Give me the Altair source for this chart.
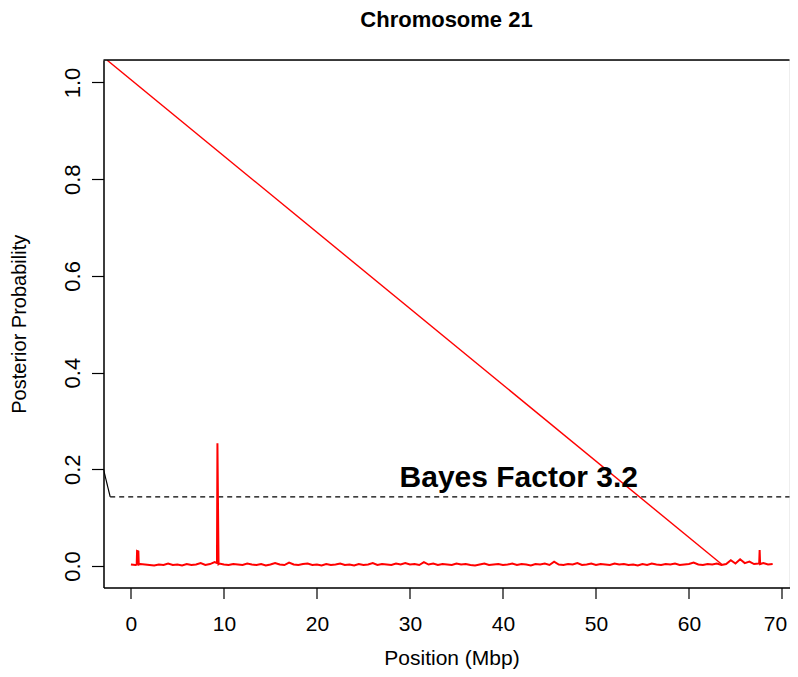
import altair as alt
import pandas as pd

FONT = "Liberation Sans, Arial, Helvetica, sans-serif"

# --- data ---
# background posterior probability along the chromosome (Mbp, probability)
noise_pos = [0.0, 0.5, 1.0, 1.5, 2.0, 2.5, 3.0, 3.5, 4.0, 4.5, 5.0, 5.5, 6.0, 6.5, 7.0, 7.5,
             8.0, 8.5, 9.0, 9.5, 10.0, 10.5, 11.0, 11.5, 12.0, 12.5, 13.0, 13.5, 14.0, 14.5,
             15.0, 15.5, 16.0, 16.5, 17.0, 17.5, 18.0, 18.5, 19.0, 19.5, 20.0, 20.5, 21.0,
             21.5, 22.0, 22.5, 23.0, 23.5, 24.0, 24.5, 25.0, 25.5, 26.0, 26.5, 27.0, 27.5,
             28.0, 28.5, 29.0, 29.5, 30.0, 30.5, 31.0, 31.5, 32.0, 32.5, 33.0, 33.5, 34.0,
             34.5, 35.0, 35.5, 36.0, 36.5, 37.0, 37.5, 38.0, 38.5, 39.0, 39.5, 40.0, 40.5,
             41.0, 41.5, 42.0, 42.5, 43.0, 43.5, 44.0, 44.5, 45.0, 45.5, 46.0, 46.5, 47.0,
             47.5, 48.0, 48.5, 49.0, 49.5, 50.0, 50.5, 51.0, 51.5, 52.0, 52.5, 53.0, 53.5,
             54.0, 54.5, 55.0, 55.5, 56.0, 56.5, 57.0, 57.5, 58.0, 58.5, 59.0, 59.5, 60.0,
             60.5, 61.0, 61.5, 62.0, 62.5, 63.0, 63.5, 64.0, 64.5, 65.0, 65.5, 66.0, 66.5,
             67.0, 67.5, 68.0, 68.5, 69.0]
noise_val = [0.003, 0.002, 0.004, 0.003, 0.002, 0.001, 0.003, 0.002, 0.005, 0.002, 0.003,
             0.001, 0.004, 0.002, 0.003, 0.006, 0.002, 0.004, 0.008, 0.005, 0.003, 0.002,
             0.004, 0.003, 0.002, 0.005, 0.003, 0.002, 0.004, 0.001, 0.003, 0.006, 0.003,
             0.002, 0.007, 0.003, 0.002, 0.004, 0.005, 0.002, 0.003, 0.001, 0.004, 0.002,
             0.003, 0.005, 0.002, 0.003, 0.001, 0.004, 0.002, 0.003, 0.006, 0.002, 0.004,
             0.003, 0.002, 0.005, 0.003, 0.006, 0.003, 0.004, 0.002, 0.008, 0.003, 0.005,
             0.002, 0.004, 0.003, 0.002, 0.005, 0.003, 0.004, 0.002, 0.001, 0.003, 0.005,
             0.002, 0.003, 0.004, 0.002, 0.003, 0.005, 0.002, 0.004, 0.003, 0.001, 0.004,
             0.003, 0.005, 0.002, 0.009, 0.003, 0.002, 0.004, 0.003, 0.006, 0.002, 0.003,
             0.005, 0.002, 0.004, 0.003, 0.002, 0.005, 0.003, 0.004, 0.002, 0.003, 0.001,
             0.004, 0.002, 0.005, 0.003, 0.002, 0.004, 0.003, 0.005, 0.002, 0.003, 0.004,
             0.007, 0.003, 0.002, 0.004, 0.003, 0.005, 0.002, 0.004, 0.012, 0.005, 0.014,
             0.006, 0.009, 0.004, 0.005, 0.006, 0.003, 0.004]
# narrow peaks
peak_pos = [0.62, 0.66, 0.80, 0.84, 9.25, 9.30, 9.42, 67.55, 67.60, 67.65]
peak_val = [0.003, 0.031, 0.030, 0.003, 0.006, 0.254, 0.004, 0.005, 0.033, 0.004]

# long straight red segment
diag_pos = [-2.55, 63.55]
diag_val = [1.046, 0.003]

# Bayes factor threshold
bf_level = 0.143
bf_label = "Bayes Factor 3.2"
bracket_pos = [-2.95, -2.23]
bracket_val = [0.2, 0.143]
thresh_pos = [-2.23, 75.0]

x_ticks = [0, 10, 20, 30, 40, 50, 60, 70]
y_ticks = [0.0, 0.2, 0.4, 0.6, 0.8, 1.0]

W, H = 686, 527.5
xs = alt.Scale(domain=[-2.95, 70.81], nice=False, zero=False)
ys = alt.Scale(domain=[-0.0445, 1.0465], nice=False, zero=False)

trace = pd.DataFrame({"x": noise_pos + peak_pos, "y": noise_val + peak_val}).sort_values("x")
diag = pd.DataFrame({"x": diag_pos, "y": diag_val})
bracket = pd.DataFrame({"x": bracket_pos, "y": bracket_val})
thresh = pd.DataFrame({"x": thresh_pos, "y": [bf_level, bf_level]})
label = pd.DataFrame({"x": [41.7], "y": [0.164], "t": [bf_label]})

x_axis = alt.Axis(values=x_ticks, format="d", title="Position (Mbp)", grid=False,
                  domain=True, domainColor="black", domainWidth=1.5,
                  tickColor="black", tickSize=11, tickWidth=1.2,
                  labelFont=FONT, labelFontSize=21, labelColor="black", labelPadding=15,
                  labelFlush=False, labelOffset={"expr": "datum.value == 70 ? -7 : 0"},
                  titleFont=FONT, titleFontSize=21, titleFontWeight="normal", titleColor="black",
                  titleX=W / 2 + 5, titleY=71, titleBaseline="middle", titleAlign="center")
y_axis = alt.Axis(values=y_ticks, format=".1f", title="Posterior Probability", grid=False,
                  domain=True, domainColor="black", domainWidth=1.5,
                  tickColor="black", tickSize=12, tickWidth=1.2,
                  labelFont=FONT, labelFontSize=22, labelColor="black", labelAngle=-90,
                  labelAlign="center", labelBaseline="alphabetic", labelPadding=12,
                  labelFlush=False,
                  titleFont=FONT, titleFontSize=20, titleFontWeight="normal", titleColor="black",
                  titleAngle=-90, titleX=-84, titleY=H / 2, titleBaseline="middle",
                  titleAlign="center")

base_line = alt.Chart(trace).mark_line(color="#FF0000", strokeWidth=2, clip=True).encode(
    x=alt.X("x:Q", scale=xs, axis=x_axis),
    y=alt.Y("y:Q", scale=ys, axis=y_axis),
    order="x:Q",
)
diag_line = alt.Chart(diag).mark_line(color="#FF0000", strokeWidth=1.4, clip=True).encode(
    x=alt.X("x:Q", scale=xs), y=alt.Y("y:Q", scale=ys))
bracket_line = alt.Chart(bracket).mark_line(color="black", strokeWidth=1.2, clip=True).encode(
    x=alt.X("x:Q", scale=xs), y=alt.Y("y:Q", scale=ys))
thresh_line = alt.Chart(thresh).mark_line(color="black", strokeWidth=1.4, strokeDash=[5, 4],
                                          clip=True).encode(
    x=alt.X("x:Q", scale=xs), y=alt.Y("y:Q", scale=ys))
text = alt.Chart(label).mark_text(font=FONT, fontSize=30, fontWeight="bold", color="black",
                                  align="center", baseline="alphabetic").encode(
    x=alt.X("x:Q", scale=xs), y=alt.Y("y:Q", scale=ys), text="t:N")
top_rule = alt.Chart(label).mark_rule(color="black", strokeWidth=1.5).encode(
    x=alt.value(0), x2=alt.value(W), y=alt.value(0))

chart = alt.layer(thresh_line, bracket_line, base_line, diag_line, text, top_rule).properties(
    width=W, height=H,
    title=alt.TitleParams("Chromosome 21", font=FONT, fontSize=22, fontWeight="bold",
                          color="black", anchor="middle", offset=27),
    padding={"left": 95.5, "top": 52, "right": 0, "bottom": 81},
    autosize=alt.AutoSizeParams(type="none"),
).configure_view(stroke=None).configure(background="white")

chart.save("out.html", embed_options={"renderer": "svg", "actions": False})
